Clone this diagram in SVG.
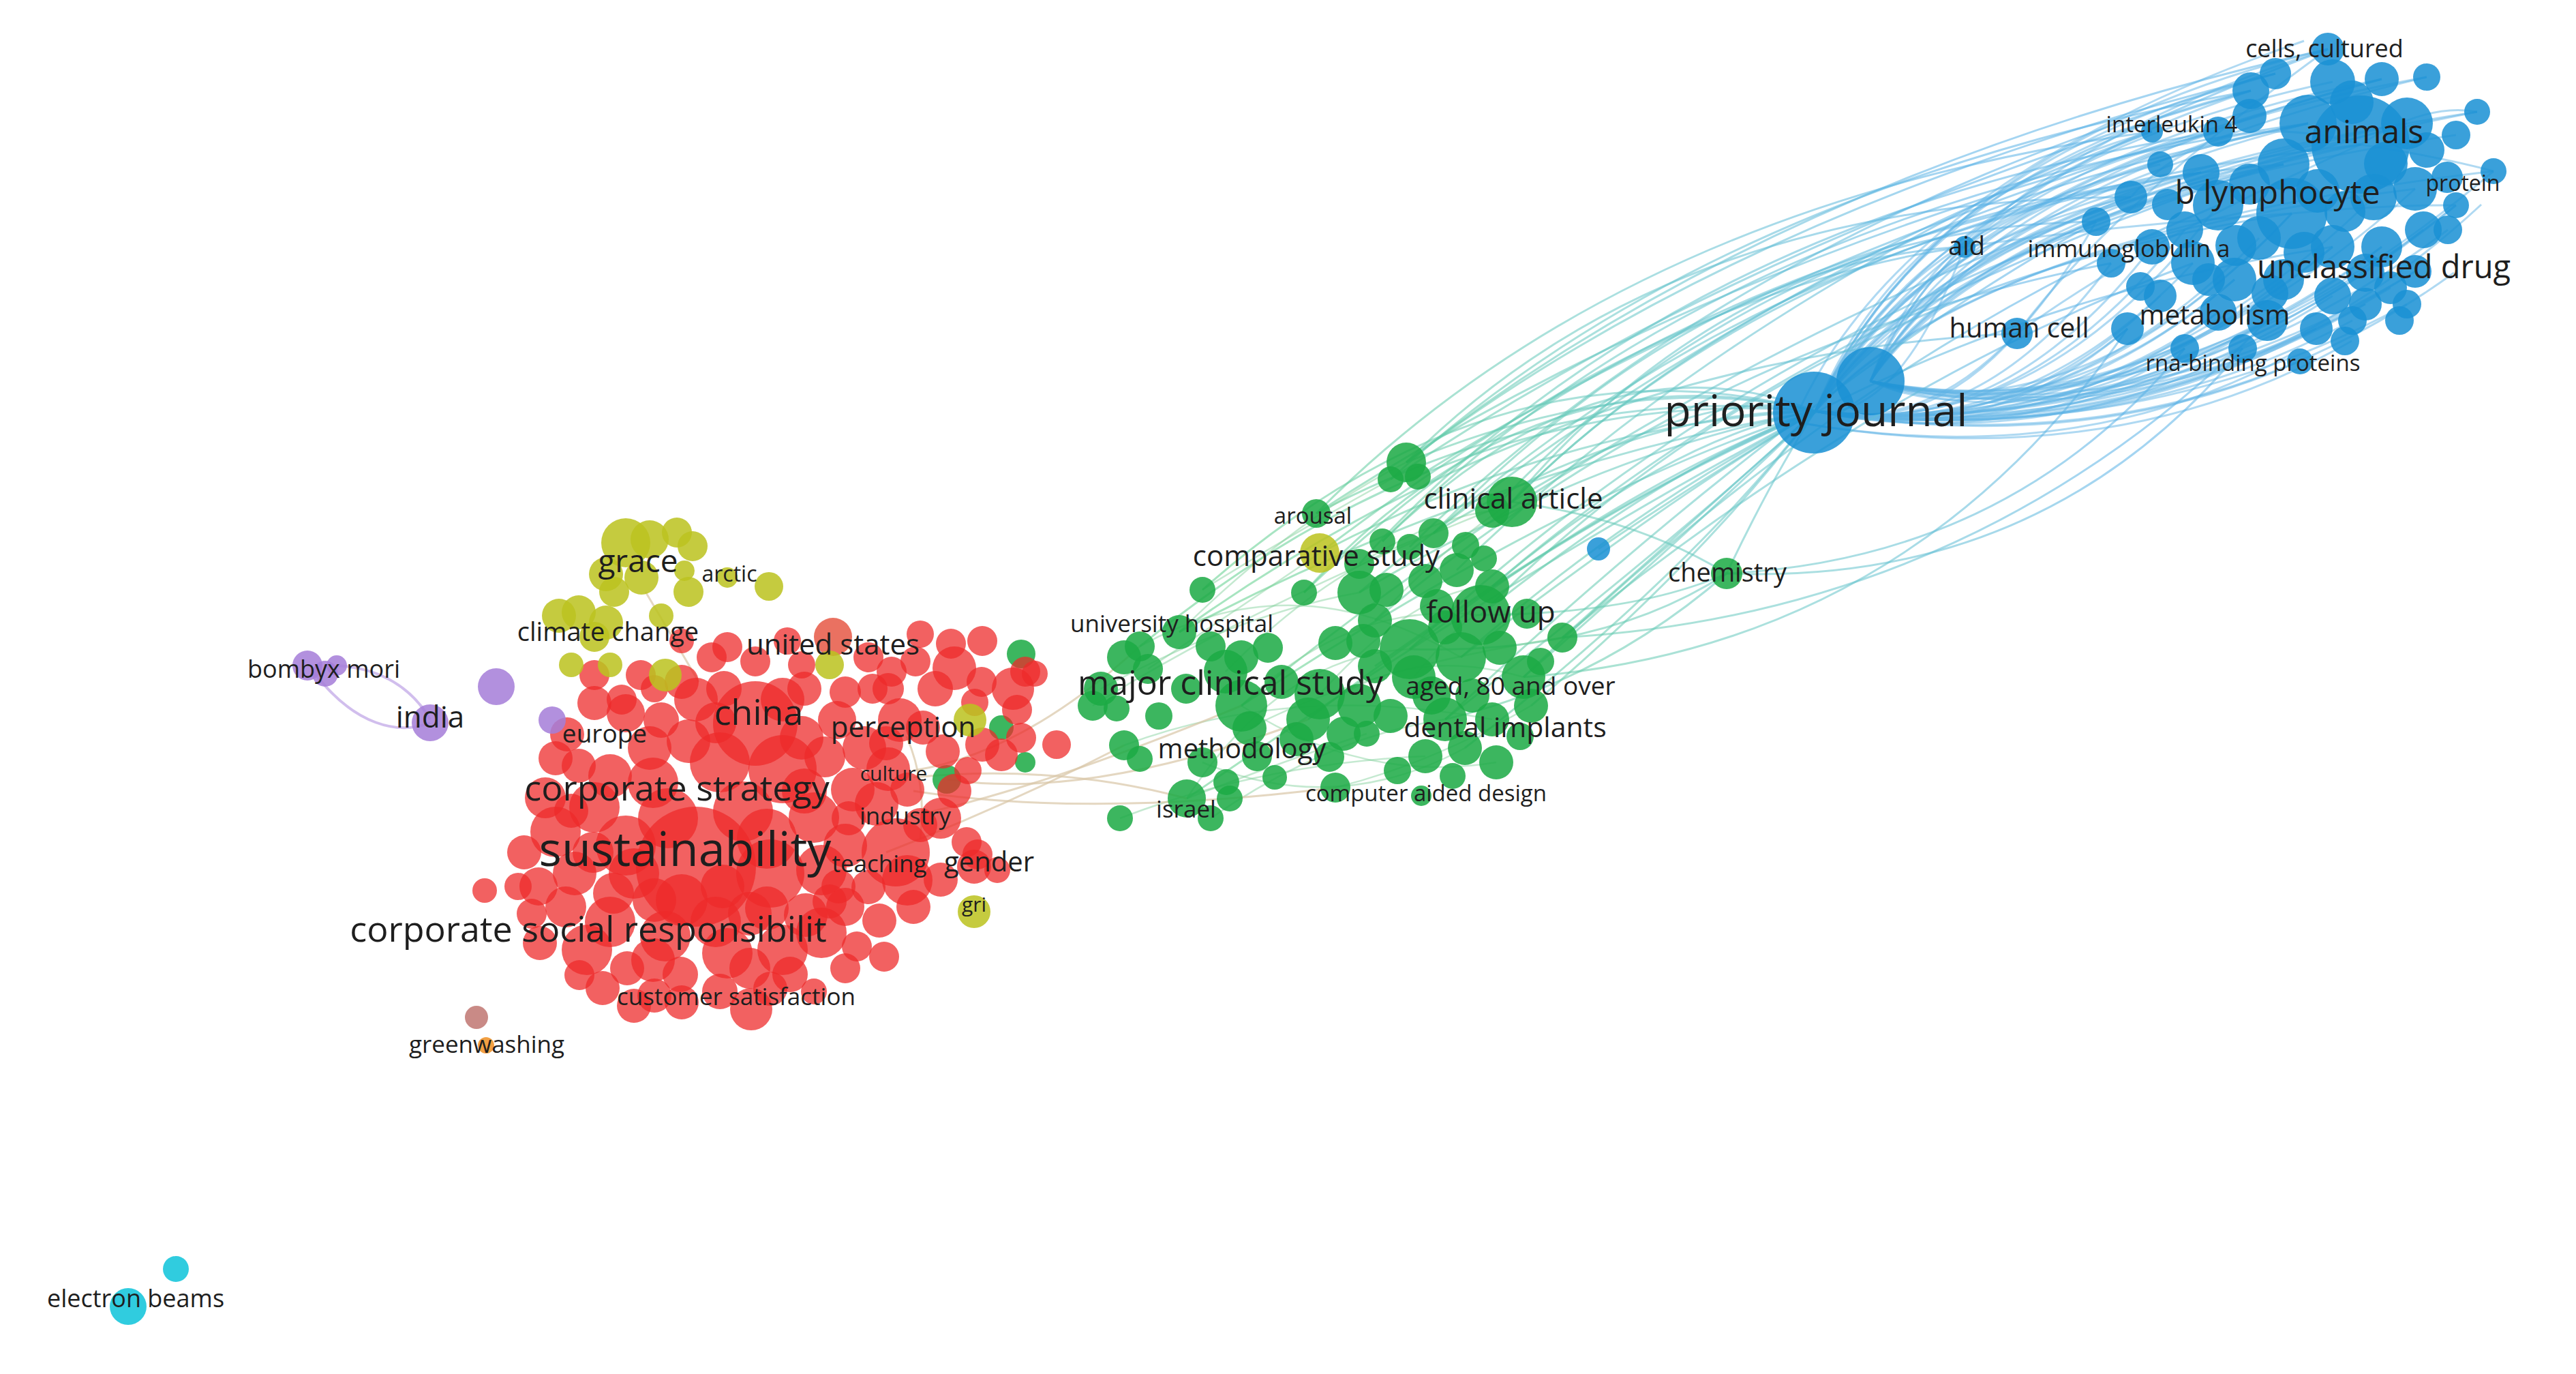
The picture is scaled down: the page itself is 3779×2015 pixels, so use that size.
<svg xmlns="http://www.w3.org/2000/svg" width="3779" height="2015" viewBox="0 0 3779 2015">
<defs>
<linearGradient id="gb" gradientUnits="userSpaceOnUse" x1="1900" y1="950" x2="2900" y2="350">
<stop offset="0" stop-color="#5fcf8c"/><stop offset="0.55" stop-color="#66c7c4"/><stop offset="1" stop-color="#5ab2e6"/>
</linearGradient>
<style>
.eb{fill:none;stroke:#5fb3e6;stroke-width:3;stroke-opacity:.5}
.eg{fill:none;stroke:url(#gb);stroke-width:3;stroke-opacity:.55}
.ei{fill:none;stroke:#7ccf96;stroke-width:2.5;stroke-opacity:.45}
.er{fill:none;stroke:#d8c6a6;stroke-width:3;stroke-opacity:.7}
.ep{fill:none;stroke:#c6aee9;stroke-width:4;stroke-opacity:.8}
.b circle{fill:#1a90d4;fill-opacity:.86}
.g circle{fill:#1caa45;fill-opacity:.86}
.r circle{fill:#ee2a2a;fill-opacity:.74}
.y circle{fill:#bcc21f;fill-opacity:.86}
.p circle{fill:#a57ed8;fill-opacity:.86}
.c circle{fill:#19c6dc;fill-opacity:.9}
text{font-family:"Open Sans","Noto Sans","DejaVu Sans",sans-serif;fill:#1e1e1e;text-anchor:middle}
</style>
</defs>
<rect width="3779" height="2015" fill="#ffffff"/>
<g id="connectors">
<path class="eb" d="M2663 603 Q2851 205 3415 72"/>
<path class="eb" d="M2663 603 Q2832 232 3338 108"/>
<path class="eb" d="M2663 603 Q2871 238 3494 116"/>
<path class="eb" d="M2663 603 Q2887 236 3560 113"/>
<path class="eb" d="M2663 603 Q2906 274 3634 164"/>
<path class="eb" d="M2663 603 Q2898 299 3603 198"/>
<path class="eb" d="M2663 603 Q2912 339 3658 251"/>
<path class="eb" d="M2663 603 Q2863 310 3463 212"/>
<path class="eb" d="M2663 603 Q2844 286 3386 181"/>
<path class="eb" d="M2663 603 Q2880 286 3531 181"/>
<path class="eb" d="M2663 603 Q2835 332 3350 241"/>
<path class="eb" d="M2663 603 Q2883 359 3543 277"/>
<path class="eb" d="M2663 603 Q2811 296 3254 193"/>
<path class="eb" d="M2663 603 Q2787 296 3157 193"/>
<path class="eb" d="M2663 603 Q2823 250 3302 133"/>
<path class="eb" d="M2663 603 Q2853 241 3422 120"/>
<path class="eb" d="M2663 603 Q2779 368 3126 289"/>
<path class="eb" d="M2663 603 Q2805 341 3229 253"/>
<path class="eb" d="M2663 603 Q2790 332 3169 241"/>
<path class="eb" d="M2663 603 Q3047 650 3362 313"/>
<path class="eb" d="M2663 603 Q2988 650 3254 301"/>
<path class="eb" d="M2663 603 Q2890 650 3075 325"/>
<path class="eb" d="M2663 603 Q2961 650 3205 337"/>
<path class="eb" d="M2663 603 Q3080 650 3422 362"/>
<path class="eb" d="M2663 603 Q3120 650 3494 362"/>
<path class="eb" d="M2663 603 Q3147 650 3543 398"/>
<path class="eb" d="M2663 603 Q3173 650 3591 337"/>
<path class="eb" d="M2663 603 Q3180 650 3603 301"/>
<path class="eb" d="M2663 603 Q2968 650 3217 386"/>
<path class="eb" d="M2663 603 Q3001 650 3278 410"/>
<path class="eb" d="M2663 603 Q3041 650 3350 410"/>
<path class="eb" d="M2663 603 Q3080 655 3422 434"/>
<path class="eb" d="M2663 603 Q3107 655 3470 446"/>
<path class="eb" d="M2663 603 Q3067 660 3398 482"/>
<path class="eb" d="M2663 603 Q3028 660 3326 470"/>
<path class="eb" d="M2663 603 Q2988 660 3254 458"/>
<path class="eb" d="M2663 603 Q2941 655 3169 434"/>
<path class="eb" d="M2663 603 Q2915 660 3121 482"/>
<path class="eb" d="M2663 603 Q2961 665 3205 511"/>
<path class="eb" d="M2663 603 Q3008 665 3290 511"/>
<path class="eb" d="M2663 603 Q2826 640 2959 489"/>
<path class="eb" d="M2663 603 Q2783 620 2882 362"/>
<path class="eb" d="M2663 603 Q2902 650 3097 386"/>
<path class="eb" d="M2663 603 Q3140 660 3531 446"/>
<path class="eb" d="M2663 603 Q3096 660 3451 470"/>
<path class="eb" d="M2663 603 Q3021 650 3314 349"/>
<path class="eb" d="M2663 603 Q2935 650 3157 362"/>
<path class="eb" d="M2663 603 Q3054 670 3374 530"/>
<path class="eb" d="M2663 603 Q3154 650 3555 337"/>
<path class="eb" d="M2663 603 Q3127 655 3507 422"/>
<path class="eb" d="M2663 603 Q3113 650 3482 289"/>
<path class="eb" d="M2663 603 Q3230 680 3640 300"/>
<path class="eb" d="M2663 603 Q3200 690 3600 400"/>
<path class="eb" d="M2744 559 Q2878 242 3415 72"/>
<path class="eb" d="M2744 559 Q2894 271 3494 116"/>
<path class="eb" d="M2744 559 Q2872 313 3386 181"/>
<path class="eb" d="M2744 559 Q2888 333 3463 212"/>
<path class="eb" d="M2744 559 Q2856 282 3302 133"/>
<path class="eb" d="M2744 559 Q2846 321 3254 193"/>
<path class="eb" d="M2744 559 Q2907 269 3560 113"/>
<path class="eb" d="M2744 559 Q2922 302 3634 164"/>
<path class="eb" d="M2744 559 Q2901 313 3531 181"/>
<path class="eb" d="M2744 559 Q2865 352 3350 241"/>
<path class="eb" d="M2744 559 Q2827 321 3157 193"/>
<path class="eb" d="M2744 559 Q2841 360 3229 253"/>
<path class="eb" d="M2744 559 Q3053 640 3362 313"/>
<path class="eb" d="M2744 559 Q3083 640 3422 362"/>
<path class="eb" d="M2744 559 Q3011 640 3278 410"/>
<path class="eb" d="M2744 559 Q3035 640 3326 470"/>
<path class="eb" d="M2744 559 Q3071 640 3398 482"/>
<path class="eb" d="M2744 559 Q3119 640 3494 362"/>
<path class="eb" d="M2744 559 Q3143 640 3543 398"/>
<path class="eb" d="M2744 559 Q3173 640 3603 301"/>
<path class="eb" d="M2744 559 Q3107 640 3470 446"/>
<path class="eb" d="M2744 559 Q2975 640 3205 511"/>
<path class="eb" d="M2744 559 Q2999 640 3254 458"/>
<path class="eb" d="M2744 559 Q2932 640 3121 482"/>
<path class="eb" d="M2744 559 Q3201 640 3658 251"/>
<path class="eb" d="M2744 559 Q3143 640 3543 277"/>
<path class="eb" d="M2640 620 Q3100 700 3450 500"/>
<path class="eb" d="M2640 620 Q3050 690 3360 520"/>
<path class="eb" d="M2640 600 Q2800 260 3380 60"/>
<path class="eb" d="M2959 489 Q3100 300 3415 72"/>
<path class="eb" d="M2959 489 Q3150 350 3463 212"/>
<path class="eb" d="M2882 362 Q3050 250 3386 181"/>
<path class="eb" d="M2882 362 Q3100 330 3362 313"/>
<path class="eb" d="M3126 289 Q3250 150 3463 212"/>
<path class="eb" d="M3463 212 Q3580 230 3658 251"/>
<path class="eb" d="M3463 212 Q3560 150 3634 164"/>
<path class="eb" d="M3362 313 Q3500 300 3603 301"/>
<path class="eg" d="M2063 678 Q2604 254 3415 72"/>
<path class="eg" d="M2063 678 Q2560 300 3338 108"/>
<path class="eg" d="M2218 736 Q2650 300 3463 212"/>
<path class="eg" d="M2218 736 Q2620 330 3386 181"/>
<path class="eg" d="M2040 703 Q2580 340 3302 133"/>
<path class="eg" d="M2080 699 Q2640 350 3494 116"/>
<path class="eg" d="M1931 753 Q2500 380 3254 193"/>
<path class="eg" d="M2172 902 Q2650 420 3362 313"/>
<path class="eg" d="M2068 952 Q2600 450 3350 241"/>
<path class="eg" d="M2143 964 Q2700 470 3422 362"/>
<path class="eg" d="M1994 869 Q2520 430 3157 193"/>
<path class="eg" d="M2189 860 Q2700 420 3531 181"/>
<path class="eg" d="M2103 782 Q2580 360 3229 253"/>
<path class="eg" d="M1821 1035 Q2400 560 3126 289"/>
<path class="eg" d="M1936 811 Q2450 420 2882 362"/>
<path class="eg" d="M2235 993 Q2720 520 3254 301"/>
<path class="eg" d="M2292 935 Q2750 560 3217 386"/>
<path class="eg" d="M2120 1055 Q2650 560 3075 325"/>
<path class="eg" d="M1730 927 Q2300 520 2959 489"/>
<path class="eg" d="M2017 910 Q2500 500 3097 386"/>
<path class="eg" d="M1994 827 Q2450 320 3254 193"/>
<path class="eg" d="M1931 753 Q2380 300 3157 193"/>
<path class="eg" d="M2063 678 Q2450 290 3126 289"/>
<path class="eg" d="M2040 703 Q2500 280 3302 133"/>
<path class="eg" d="M1913 869 Q2420 380 3229 253"/>
<path class="eg" d="M2218 736 Q2560 330 3075 325"/>
<path class="eg" d="M2189 749 Q2600 300 3350 241"/>
<path class="eg" d="M2103 782 Q2500 380 2882 362"/>
<path class="eg" d="M2028 794 Q2520 300 3386 181"/>
<path class="eg" d="M2068 802 Q2550 330 3338 108"/>
<path class="eg" d="M2137 836 Q2600 380 3415 72"/>
<path class="eg" d="M2218 736 Q2500 560 2663 603"/>
<path class="eg" d="M2063 678 Q2400 540 2663 603"/>
<path class="eg" d="M2172 902 Q2450 680 2663 603"/>
<path class="eg" d="M2068 952 Q2400 700 2663 603"/>
<path class="eg" d="M1821 1035 Q2300 720 2663 603"/>
<path class="eg" d="M1936 811 Q2300 620 2663 603"/>
<path class="eg" d="M2143 964 Q2450 730 2663 603"/>
<path class="eg" d="M1994 869 Q2350 660 2663 603"/>
<path class="eg" d="M2292 935 Q2500 750 2663 603"/>
<path class="eg" d="M2235 993 Q2480 780 2663 603"/>
<path class="eg" d="M2189 860 Q2450 640 2663 603"/>
<path class="eg" d="M2103 782 Q2400 600 2663 603"/>
<path class="eg" d="M1931 753 Q2300 560 2663 603"/>
<path class="eg" d="M1730 927 Q2200 680 2663 603"/>
<path class="eg" d="M2120 1055 Q2450 800 2663 603"/>
<path class="eg" d="M2246 1035 Q2500 820 2663 603"/>
<path class="eg" d="M2017 977 Q2380 720 2663 603"/>
<path class="eg" d="M1919 1055 Q2300 760 2663 603"/>
<path class="eg" d="M2149 1097 Q2480 840 2663 603"/>
<path class="eg" d="M1741 1171 Q2250 820 2663 603"/>
<path class="eg" d="M1764 865 Q2200 480 2663 603"/>
<path class="eg" d="M1913 869 Q2250 500 2663 603"/>
<path class="eg" d="M1672 948 Q2150 560 2663 603"/>
<path class="eg" d="M2028 794 Q2350 480 2663 603"/>
<path class="eg" d="M2533 841 Q2600 700 2663 603"/>
<path class="eg" d="M2533 841 Q3000 860 3290 511"/>
<path class="eg" d="M2533 841 Q2950 820 3205 511"/>
<path class="eg" d="M2292 935 Q2900 900 3326 470"/>
<path class="eg" d="M2235 993 Q2800 950 3121 482"/>
<path class="eg" d="M2172 902 Q2400 900 2533 841"/>
<path class="eg" d="M2068 952 Q2350 960 2533 841"/>
<path class="eg" d="M2218 736 Q2400 760 2533 841"/>
<path class="eg" d="M2120 1055 Q2350 1000 2533 841"/>
<path class="eg" d="M2345 805 Q2500 700 2663 603"/>
<path class="ei" d="M1821 1035 Q1980 880 2172 902"/>
<path class="ei" d="M1741 1171 Q1880 960 2068 952"/>
<path class="ei" d="M1672 948 Q1900 820 2143 964"/>
<path class="ei" d="M1649 1093 Q1900 1000 2189 1055"/>
<path class="ei" d="M1776 1200 Q1950 1080 2120 1055"/>
<path class="ei" d="M1603 1035 Q1850 880 2218 736"/>
<path class="ei" d="M1730 927 Q1900 760 2063 678"/>
<path class="ei" d="M1821 1035 Q2000 1150 2195 1118"/>
<path class="ei" d="M1764 1118 Q1960 1200 2149 1097"/>
<path class="ei" d="M1919 1055 Q2050 940 2235 993"/>
<path class="ei" d="M1936 1018 Q2080 860 2189 860"/>
<path class="ei" d="M1798 985 Q1950 830 2103 782"/>
<path class="ei" d="M1643 1200 Q1850 1120 2091 1109"/>
<path class="ei" d="M1615 1010 Q1820 900 1994 869"/>
<path class="ei" d="M1959 1155 Q2100 1120 2246 1035"/>
<path class="ei" d="M1833 1068 Q2000 980 2292 935"/>
<path class="ei" d="M1741 1171 Q1900 1110 2005 1076"/>
<path class="ei" d="M1684 981 Q1850 870 1936 811"/>
<path class="ei" d="M1764 865 Q1900 780 2040 703"/>
<path class="ei" d="M2017 910 Q2120 800 2218 736"/>
<path class="ei" d="M2074 993 Q2150 900 2172 902"/>
<path class="ei" d="M1994 827 Q2100 760 2189 749"/>
<path class="er" d="M1340 1130 Q1500 1105 1672 948"/>
<path class="er" d="M1340 1140 Q1550 1120 1741 1171"/>
<path class="er" d="M1330 1198 Q1520 1160 1821 1035"/>
<path class="er" d="M1300 1250 Q1480 1180 1649 1093"/>
<path class="er" d="M1389 1143 Q1600 1175 1919 1055"/>
<path class="er" d="M1340 1160 Q1600 1200 1959 1155"/>
<path class="er" d="M1330 1080 Q1360 1150 1350 1230"/>
<path class="er" d="M947 868 Q990 940 1025 1000"/>
<path class="ep" d="M460 985 C520 1065 585 1078 631 1060"/>
<path class="ep" d="M494 976 C560 980 605 1010 631 1055"/>
</g>
<g id="cluster-blue" class="b">
<circle cx="2744" cy="559" r="50"/><circle cx="2661" cy="605" r="60"/>
<circle cx="2345" cy="805" r="17"/>
<circle cx="3415" cy="72" r="24"/><circle cx="3338" cy="108" r="23"/><circle cx="3494" cy="116" r="25"/><circle cx="3560" cy="113" r="20"/>
<circle cx="3634" cy="164" r="19"/><circle cx="3603" cy="198" r="21"/><circle cx="3658" cy="251" r="19"/>
<circle cx="3302" cy="133" r="27"/><circle cx="3422" cy="120" r="33"/><circle cx="3300" cy="170" r="25"/><circle cx="3450" cy="150" r="32"/>
<circle cx="3386" cy="181" r="42"/><circle cx="3531" cy="181" r="38"/><circle cx="3350" cy="241" r="38"/><circle cx="3543" cy="277" r="32"/>
<circle cx="3500" cy="240" r="32"/><circle cx="3560" cy="220" r="26"/><circle cx="3590" cy="260" r="23"/>
<circle cx="3254" cy="193" r="22"/><circle cx="3157" cy="193" r="16"/><circle cx="3229" cy="253" r="27"/><circle cx="3169" cy="241" r="19"/>
<circle cx="3463" cy="212" r="72"/><circle cx="3482" cy="289" r="34"/>
<circle cx="3400" cy="280" r="32"/><circle cx="3300" cy="270" r="30"/><circle cx="3440" cy="310" r="30"/><circle cx="3180" cy="300" r="23"/>
<circle cx="3362" cy="313" r="52"/><circle cx="3254" cy="301" r="37"/><circle cx="3126" cy="289" r="24"/><circle cx="3075" cy="325" r="21"/>
<circle cx="3205" cy="337" r="27"/><circle cx="3422" cy="362" r="32"/><circle cx="3494" cy="362" r="30"/><circle cx="3543" cy="398" r="24"/>
<circle cx="3591" cy="337" r="21"/><circle cx="3603" cy="301" r="19"/><circle cx="3555" cy="337" r="27"/><circle cx="3314" cy="349" r="32"/>
<circle cx="3280" cy="360" r="30"/><circle cx="3380" cy="370" r="30"/><circle cx="3470" cy="400" r="28"/>
<circle cx="3157" cy="362" r="26"/><circle cx="3217" cy="386" r="32"/><circle cx="3278" cy="410" r="32"/><circle cx="3350" cy="410" r="30"/>
<circle cx="3422" cy="434" r="27"/><circle cx="3470" cy="446" r="24"/><circle cx="3507" cy="422" r="24"/><circle cx="3398" cy="482" r="24"/>
<circle cx="3326" cy="470" r="30"/><circle cx="3254" cy="458" r="27"/><circle cx="3169" cy="434" r="24"/><circle cx="3121" cy="482" r="24"/>
<circle cx="3330" cy="430" r="27"/><circle cx="3240" cy="410" r="24"/><circle cx="3140" cy="420" r="21"/><circle cx="3520" cy="470" r="21"/>
<circle cx="3205" cy="511" r="21"/><circle cx="3290" cy="511" r="21"/><circle cx="3374" cy="530" r="19"/><circle cx="3440" cy="500" r="21"/>
<circle cx="2959" cy="489" r="23"/><circle cx="2882" cy="362" r="16"/><circle cx="3097" cy="386" r="21"/>
<circle cx="3531" cy="446" r="21"/><circle cx="3451" cy="470" r="21"/>
</g>
<g id="cluster-green" class="g">
<circle cx="2063" cy="678" r="29"/><circle cx="2040" cy="703" r="19"/><circle cx="2080" cy="699" r="19"/><circle cx="1931" cy="753" r="21"/>
<circle cx="2218" cy="736" r="37"/><circle cx="2189" cy="749" r="25"/><circle cx="2103" cy="782" r="22"/><circle cx="2028" cy="794" r="19"/>
<circle cx="2068" cy="802" r="19"/><circle cx="2177" cy="819" r="19"/><circle cx="1994" cy="827" r="22"/><circle cx="2137" cy="836" r="25"/>
<circle cx="1764" cy="865" r="19"/><circle cx="1913" cy="869" r="19"/><circle cx="1994" cy="869" r="32"/><circle cx="2034" cy="865" r="25"/>
<circle cx="2091" cy="852" r="25"/><circle cx="2189" cy="860" r="25"/><circle cx="2172" cy="902" r="44"/><circle cx="2108" cy="889" r="25"/>
<circle cx="2017" cy="910" r="25"/><circle cx="2292" cy="935" r="22"/><circle cx="2068" cy="952" r="44"/><circle cx="2143" cy="964" r="37"/>
<circle cx="2150" cy="800" r="20"/><circle cx="2240" cy="900" r="22"/><circle cx="2120" cy="920" r="25"/><circle cx="2200" cy="950" r="25"/>
<circle cx="2000" cy="940" r="25"/><circle cx="2260" cy="970" r="20"/>
<circle cx="2074" cy="993" r="32"/><circle cx="1959" cy="943" r="25"/><circle cx="2017" cy="977" r="25"/><circle cx="1936" cy="1018" r="37"/>
<circle cx="1919" cy="1055" r="32"/><circle cx="1994" cy="1035" r="32"/><circle cx="2235" cy="993" r="32"/><circle cx="2246" cy="1035" r="25"/>
<circle cx="2100" cy="1020" r="28"/><circle cx="2160" cy="1020" r="25"/><circle cx="2040" cy="1050" r="25"/><circle cx="1880" cy="1000" r="25"/><circle cx="1860" cy="950" r="22"/>
<circle cx="2120" cy="1055" r="32"/><circle cx="2189" cy="1055" r="25"/><circle cx="2091" cy="1109" r="25"/><circle cx="2149" cy="1097" r="25"/>
<circle cx="2195" cy="1118" r="25"/><circle cx="2131" cy="1138" r="19"/><circle cx="1971" cy="1076" r="25"/><circle cx="2005" cy="1076" r="19"/>
<circle cx="1950" cy="1110" r="22"/><circle cx="2050" cy="1130" r="20"/><circle cx="2230" cy="1080" r="20"/>
<circle cx="1821" cy="1035" r="38"/><circle cx="1798" cy="985" r="32"/><circle cx="1821" cy="964" r="25"/><circle cx="1776" cy="948" r="22"/>
<circle cx="1730" cy="927" r="25"/><circle cx="1672" cy="948" r="22"/><circle cx="1649" cy="964" r="25"/><circle cx="1684" cy="981" r="22"/>
<circle cx="1740" cy="1010" r="22"/><circle cx="1700" cy="1050" r="20"/><circle cx="1870" cy="1140" r="18"/>
<circle cx="1615" cy="1010" r="25"/><circle cx="1603" cy="1035" r="22"/><circle cx="1638" cy="1039" r="19"/><circle cx="1833" cy="1068" r="25"/>
<circle cx="1649" cy="1093" r="22"/><circle cx="1672" cy="1113" r="19"/><circle cx="1764" cy="1118" r="22"/><circle cx="1799" cy="1147" r="19"/>
<circle cx="1804" cy="1171" r="19"/><circle cx="1741" cy="1171" r="28"/><circle cx="1776" cy="1200" r="19"/><circle cx="1643" cy="1200" r="19"/>
<circle cx="1959" cy="1155" r="22"/><circle cx="2085" cy="1167" r="15"/><circle cx="1902" cy="1084" r="25"/><circle cx="1844" cy="1109" r="22"/>
<circle cx="2533" cy="841" r="23"/>
<circle cx="1498" cy="959" r="21"/><circle cx="1469" cy="1067" r="18"/><circle cx="1389" cy="1143" r="21"/><circle cx="1504" cy="1118" r="15"/>
</g>
<g id="cluster-red" class="r">
<circle cx="1067" cy="949" r="22"/><circle cx="1044" cy="964" r="22"/><circle cx="1108" cy="970" r="22"/><circle cx="1176" cy="975" r="20"/>
<circle cx="1274" cy="964" r="22"/><circle cx="1308" cy="985" r="22"/><circle cx="1343" cy="970" r="22"/><circle cx="1395" cy="944" r="22"/>
<circle cx="1441" cy="940" r="22"/><circle cx="1518" cy="988" r="19"/><circle cx="1350" cy="930" r="20"/><circle cx="1155" cy="940" r="20"/>
<circle cx="1000" cy="940" r="18"/><circle cx="940" cy="990" r="22"/><circle cx="960" cy="1010" r="20"/>
<circle cx="1400" cy="980" r="32"/><circle cx="1372" cy="1010" r="26"/><circle cx="1303" cy="1010" r="23"/><circle cx="1240" cy="1015" r="23"/>
<circle cx="1486" cy="1010" r="31"/><circle cx="1504" cy="985" r="22"/><circle cx="1492" cy="1041" r="22"/><circle cx="1441" cy="1092" r="25"/>
<circle cx="1469" cy="1107" r="24"/><circle cx="1498" cy="1082" r="22"/><circle cx="1550" cy="1092" r="21"/><circle cx="1440" cy="1000" r="22"/><circle cx="1430" cy="1030" r="20"/>
<circle cx="1021" cy="1026" r="32"/><circle cx="1062" cy="1010" r="26"/><circle cx="1148" cy="1026" r="32"/><circle cx="1180" cy="1010" r="25"/><circle cx="1280" cy="1010" r="22"/>
<circle cx="1176" cy="1082" r="32"/><circle cx="1010" cy="1087" r="32"/><circle cx="970" cy="1056" r="26"/><circle cx="953" cy="1097" r="32"/>
<circle cx="918" cy="1046" r="28"/><circle cx="872" cy="990" r="22"/><circle cx="872" cy="1031" r="25"/><circle cx="912" cy="1026" r="22"/>
<circle cx="832" cy="1077" r="25"/><circle cx="815" cy="1112" r="25"/><circle cx="849" cy="1123" r="25"/><circle cx="895" cy="1138" r="32"/>
<circle cx="1228" cy="1056" r="28"/><circle cx="1268" cy="1097" r="32"/><circle cx="1320" cy="1056" r="32"/><circle cx="1354" cy="1067" r="25"/>
<circle cx="1383" cy="1102" r="25"/><circle cx="1303" cy="1128" r="32"/><circle cx="1251" cy="1158" r="32"/><circle cx="1286" cy="1179" r="32"/>
<circle cx="1331" cy="1158" r="25"/><circle cx="1210" cy="1110" r="30"/><circle cx="1300" cy="1090" r="25"/><circle cx="1050" cy="1060" r="30"/><circle cx="1000" cy="1000" r="25"/>
<circle cx="1420" cy="1130" r="20"/><circle cx="1380" cy="1200" r="30"/><circle cx="1400" cy="1160" r="25"/><circle cx="1350" cy="1210" r="25"/><circle cx="1245" cy="1200" r="25"/>
<circle cx="1148" cy="1128" r="50"/><circle cx="1056" cy="1118" r="44"/><circle cx="958" cy="1148" r="37"/>
<circle cx="872" cy="1184" r="37"/><circle cx="815" cy="1220" r="37"/><circle cx="838" cy="1189" r="25"/><circle cx="769" cy="1250" r="25"/><circle cx="800" cy="1170" r="30"/>
<circle cx="711" cy="1306" r="18"/><circle cx="1090" cy="1190" r="44"/><circle cx="980" cy="1200" r="44"/><circle cx="1180" cy="1160" r="33"/>
<circle cx="1108" cy="1061" r="62"/>
<circle cx="918" cy="1240" r="44"/><circle cx="930" cy="1281" r="37"/><circle cx="843" cy="1281" r="32"/><circle cx="870" cy="1250" r="30"/>
<circle cx="1125" cy="1230" r="44"/><circle cx="1130" cy="1281" r="50"/><circle cx="1205" cy="1276" r="37"/><circle cx="1194" cy="1199" r="37"/>
<circle cx="1240" cy="1240" r="32"/><circle cx="1314" cy="1250" r="50"/><circle cx="1331" cy="1291" r="37"/><circle cx="1418" cy="1235" r="22"/>
<circle cx="1429" cy="1271" r="25"/><circle cx="1463" cy="1276" r="19"/><circle cx="1434" cy="1253" r="22"/><circle cx="1274" cy="1301" r="25"/><circle cx="1217" cy="1322" r="25"/>
<circle cx="1230" cy="1300" r="25"/><circle cx="1380" cy="1290" r="25"/><circle cx="1340" cy="1330" r="25"/><circle cx="1290" cy="1350" r="25"/><circle cx="1240" cy="1330" r="28"/>
<circle cx="1021" cy="1271" r="88"/>
<circle cx="790" cy="1300" r="28"/><circle cx="760" cy="1300" r="20"/><circle cx="830" cy="1330" r="30"/><circle cx="780" cy="1340" r="22"/><circle cx="900" cy="1310" r="30"/>
<circle cx="1000" cy="1320" r="38"/><circle cx="1060" cy="1300" r="32"/><circle cx="960" cy="1320" r="32"/><circle cx="1100" cy="1340" r="32"/>
<circle cx="895" cy="1352" r="37"/><circle cx="861" cy="1393" r="37"/><circle cx="792" cy="1383" r="25"/><circle cx="976" cy="1373" r="37"/>
<circle cx="1050" cy="1352" r="37"/><circle cx="1125" cy="1332" r="32"/><circle cx="1182" cy="1342" r="32"/><circle cx="1067" cy="1398" r="37"/>
<circle cx="1148" cy="1393" r="37"/><circle cx="1205" cy="1368" r="37"/><circle cx="1257" cy="1388" r="22"/><circle cx="1297" cy="1403" r="22"/>
<circle cx="958" cy="1408" r="32"/><circle cx="998" cy="1429" r="26"/><circle cx="884" cy="1449" r="25"/><circle cx="930" cy="1475" r="25"/>
<circle cx="920" cy="1420" r="25"/><circle cx="850" cy="1430" r="22"/><circle cx="1100" cy="1420" r="30"/><circle cx="1000" cy="1470" r="25"/><circle cx="960" cy="1460" r="25"/>
<circle cx="1130" cy="1450" r="25"/><circle cx="1240" cy="1420" r="22"/>
<circle cx="1102" cy="1480" r="31"/><circle cx="1159" cy="1429" r="26"/><circle cx="1056" cy="1454" r="26"/><circle cx="1194" cy="1454" r="19"/>
<circle cx="1222" cy="934" r="28" style="fill:#e2402a"/>
</g>
<g id="cluster-yellow" class="y">
<circle cx="918" cy="796" r="36"/><circle cx="953" cy="791" r="28"/><circle cx="993" cy="781" r="22"/><circle cx="1016" cy="801" r="22"/>
<circle cx="889" cy="842" r="25"/><circle cx="941" cy="847" r="25"/><circle cx="901" cy="868" r="22"/><circle cx="1010" cy="868" r="22"/>
<circle cx="1004" cy="837" r="15"/><circle cx="1128" cy="860" r="21"/><circle cx="1067" cy="847" r="15"/><circle cx="820" cy="903" r="25"/>
<circle cx="849" cy="898" r="25"/><circle cx="889" cy="913" r="25"/><circle cx="872" cy="934" r="22"/><circle cx="970" cy="903" r="18"/>
<circle cx="838" cy="975" r="18"/><circle cx="895" cy="975" r="18"/><circle cx="976" cy="990" r="24"/><circle cx="1217" cy="975" r="21"/>
<circle cx="1423" cy="1056" r="24"/><circle cx="1429" cy="1337" r="24"/><circle cx="1936" cy="811" r="29"/>
</g>
<g id="cluster-purple" class="p">
<circle cx="451" cy="976" r="22"/><circle cx="477" cy="988" r="19"/><circle cx="494" cy="976" r="15"/>
<circle cx="631" cy="1060" r="27"/><circle cx="728" cy="1007" r="27"/><circle cx="810" cy="1056" r="20"/>
</g>
<g id="node-greenwashing">
<circle cx="699" cy="1492" r="17" fill="#c98a86"/>
<circle cx="713" cy="1533" r="12" fill="#f2a043"/>
</g>
<g id="cluster-cyan" class="c">
<circle cx="258" cy="1861" r="19"/><circle cx="188" cy="1916" r="27"/>
</g>
<g id="labels">
<text id="l-cells" x="3410" y="84" font-size="36">cells, cultured</text>
<text id="l-interleukin" x="3186" y="194" font-size="33">interleukin 4</text>
<text id="l-animals" x="3468" y="210" font-size="48">animals</text>
<text id="l-blymph" x="3341" y="299" font-size="48">b lymphocyte</text>
<text id="l-protein" x="3613" y="280" font-size="32">protein</text>
<text id="l-aid" x="2885" y="374" font-size="38">aid</text>
<text id="l-iga" x="3123" y="377" font-size="35">immunoglobulin a</text>
<text id="l-unclass" x="3497" y="408" font-size="47">unclassified drug</text>
<text id="l-humancell" x="2962" y="495" font-size="40">human cell</text>
<text id="l-metab" x="3249" y="476" font-size="40">metabolism</text>
<text id="l-rna" x="3305" y="544" font-size="33">rna-binding proteins</text>
<text id="l-pj" x="2664" y="625" font-size="64">priority journal</text>
<text id="l-clinart" x="2220" y="746" font-size="42">clinical article</text>
<text id="l-arousal" x="1926" y="768" font-size="33">arousal</text>
<text id="l-compstudy" x="1931" y="830" font-size="42">comparative study</text>
<text id="l-chem" x="2534" y="853" font-size="38">chemistry</text>
<text id="l-unihosp" x="1719" y="927" font-size="35">university hospital</text>
<text id="l-followup" x="2187" y="913" font-size="44">follow up</text>
<text id="l-mcs" x="1805" y="1019" font-size="50">major clinical study</text>
<text id="l-aged" x="2216" y="1019" font-size="37">aged, 80 and over</text>
<text id="l-dental" x="2208" y="1081" font-size="41">dental implants</text>
<text id="l-method" x="1822" y="1112" font-size="40">methodology</text>
<text id="l-cad" x="2092" y="1175" font-size="33">computer aided design</text>
<text id="l-israel" x="1740" y="1199" font-size="35">israel</text>
<text id="l-grace" x="936" y="839" font-size="46">grace</text>
<text id="l-arctic" x="1070" y="853" font-size="32">arctic</text>
<text id="l-climate" x="892" y="940" font-size="38">climate change</text>
<text id="l-us" x="1222" y="960" font-size="42">united states</text>
<text id="l-bombyx" x="475" y="994" font-size="36">bombyx mori</text>
<text id="l-india" x="631" y="1067" font-size="44">india</text>
<text id="l-europe" x="887" y="1089" font-size="37">europe</text>
<text id="l-china" x="1113" y="1063" font-size="52">china</text>
<text id="l-perception" x="1325" y="1081" font-size="42">perception</text>
<text id="l-culture" x="1311" y="1145" font-size="30">culture</text>
<text id="l-corpstrat" x="993" y="1174" font-size="52">corporate strategy</text>
<text id="l-industry" x="1328" y="1209" font-size="35">industry</text>
<text id="l-sustain" x="1005" y="1270" font-size="70">sustainability</text>
<text id="l-teaching" x="1290" y="1279" font-size="35">teaching</text>
<text id="l-gender" x="1451" y="1278" font-size="40">gender</text>
<text id="l-gri" x="1429" y="1337" font-size="30">gri</text>
<text id="l-csr" x="863" y="1381" font-size="52">corporate social responsibilit</text>
<text id="l-custsat" x="1080" y="1474" font-size="35">customer satisfaction</text>
<text id="l-greenwash" x="714" y="1544" font-size="35">greenwashing</text>
<text id="l-ebeams" x="199" y="1917" font-size="36">electron beams</text>
</g>
</svg>
